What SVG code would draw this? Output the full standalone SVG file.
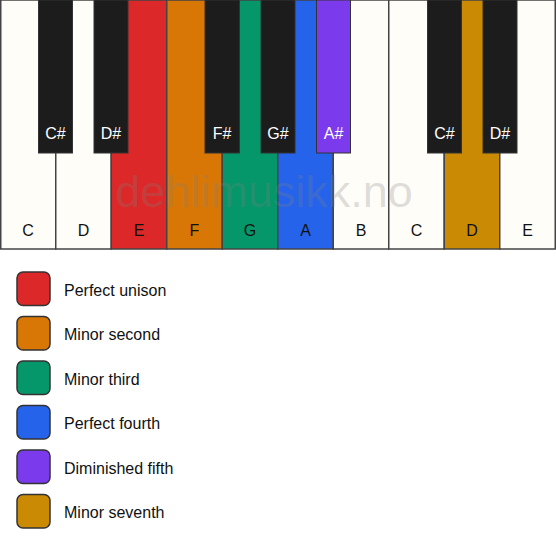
<svg xmlns="http://www.w3.org/2000/svg" width="556" height="550" viewBox="0 0 556 550">
<style>
.w{stroke:#444;stroke-width:1.5}
.b{fill:#1c1c1c;stroke:#333;stroke-width:1}
.lw{font-family:"Liberation Sans",Arial,sans-serif;font-size:16px;fill:#111;text-anchor:middle}
.lb{font-family:"Liberation Sans",Arial,sans-serif;font-size:16px;fill:#fff;text-anchor:middle}
.sw{stroke:#333;stroke-width:1.5}
.lt{font-family:"Liberation Sans",Arial,sans-serif;font-size:16px;fill:#111}
</style>
<rect width="556" height="550" fill="#ffffff"/>
<g id="white-keys">
<g id="key-C1"><rect class="w" x="0.75" y="0" width="55" height="249" fill="#fffdf8"/><text class="lw" x="28" y="236">C</text></g>
<g id="key-D1"><rect class="w" x="55.75" y="0" width="55.5" height="249" fill="#fffdf8"/><text class="lw" x="83.5" y="236">D</text></g>
<g id="key-E1"><rect class="w" x="111.25" y="0" width="55.5" height="249" fill="#dc2828"/><text class="lw" x="139" y="236">E</text></g>
<g id="key-F1"><rect class="w" x="166.75" y="0" width="55.5" height="249" fill="#d97706"/><text class="lw" x="194.5" y="236">F</text></g>
<g id="key-G1"><rect class="w" x="222.25" y="0" width="55.5" height="249" fill="#059669"/><text class="lw" x="250" y="236">G</text></g>
<g id="key-A1"><rect class="w" x="277.75" y="0" width="55.5" height="249" fill="#2563eb"/><text class="lw" x="305.5" y="236">A</text></g>
<g id="key-B1"><rect class="w" x="333.25" y="0" width="55.5" height="249" fill="#fffdf8"/><text class="lw" x="361" y="236">B</text></g>
<g id="key-C2"><rect class="w" x="388.75" y="0" width="55.5" height="249" fill="#fffdf8"/><text class="lw" x="416.5" y="236">C</text></g>
<g id="key-D2"><rect class="w" x="444.25" y="0" width="55.5" height="249" fill="#ca8a04"/><text class="lw" x="472" y="236">D</text></g>
<g id="key-E2"><rect class="w" x="499.75" y="0" width="55.5" height="249" fill="#fffdf8"/><text class="lw" x="527.5" y="236">E</text></g>
</g>
<text x="264" y="207" font-family="'Liberation Sans',Arial,sans-serif" font-size="45" fill="#808080" fill-opacity="0.26" text-anchor="middle">dehlimusikk.no</text>
<g id="black-keys">
<g id="key-Cs1"><rect class="b" x="38.5" y="0" width="34" height="153"/><text class="lb" x="55.5" y="139">C#</text></g>
<g id="key-Ds1"><rect class="b" x="94" y="0" width="34" height="153"/><text class="lb" x="111" y="139">D#</text></g>
<g id="key-Fs1"><rect class="b" x="205" y="0" width="34.5" height="153"/><text class="lb" x="222" y="139">F#</text></g>
<g id="key-Gs1"><rect class="b" x="261" y="0" width="34" height="153"/><text class="lb" x="278" y="139">G#</text></g>
<g id="key-As1"><rect x="316.5" y="0" width="34" height="153" fill="#7c3aed" stroke="#333" stroke-width="1"/><text class="lb" x="333.5" y="139">A#</text></g>
<g id="key-Cs2"><rect class="b" x="427.5" y="0" width="34" height="153"/><text class="lb" x="444.5" y="139">C#</text></g>
<g id="key-Ds2"><rect class="b" x="483" y="0" width="34" height="153"/><text class="lb" x="500" y="139">D#</text></g>
</g>
<g id="legend">
<g id="leg-unison"><rect class="sw" x="17" y="272" width="33" height="33.5" rx="6" fill="#dc2828"/><text class="lt" x="64" y="295.5">Perfect unison</text></g>
<g id="leg-m2"><rect class="sw" x="17" y="316.5" width="33" height="33.5" rx="6" fill="#d97706"/><text class="lt" x="64" y="340">Minor second</text></g>
<g id="leg-m3"><rect class="sw" x="17" y="361" width="33" height="33.5" rx="6" fill="#059669"/><text class="lt" x="64" y="384.5">Minor third</text></g>
<g id="leg-p4"><rect class="sw" x="17" y="405.5" width="33" height="33.5" rx="6" fill="#2563eb"/><text class="lt" x="64" y="429">Perfect fourth</text></g>
<g id="leg-d5"><rect class="sw" x="17" y="450" width="33" height="33.5" rx="6" fill="#7c3aed"/><text class="lt" x="64" y="473.5">Diminished fifth</text></g>
<g id="leg-m7"><rect class="sw" x="17" y="494.5" width="33" height="33.5" rx="6" fill="#ca8a04"/><text class="lt" x="64" y="518">Minor seventh</text></g>
</g>
</svg>
